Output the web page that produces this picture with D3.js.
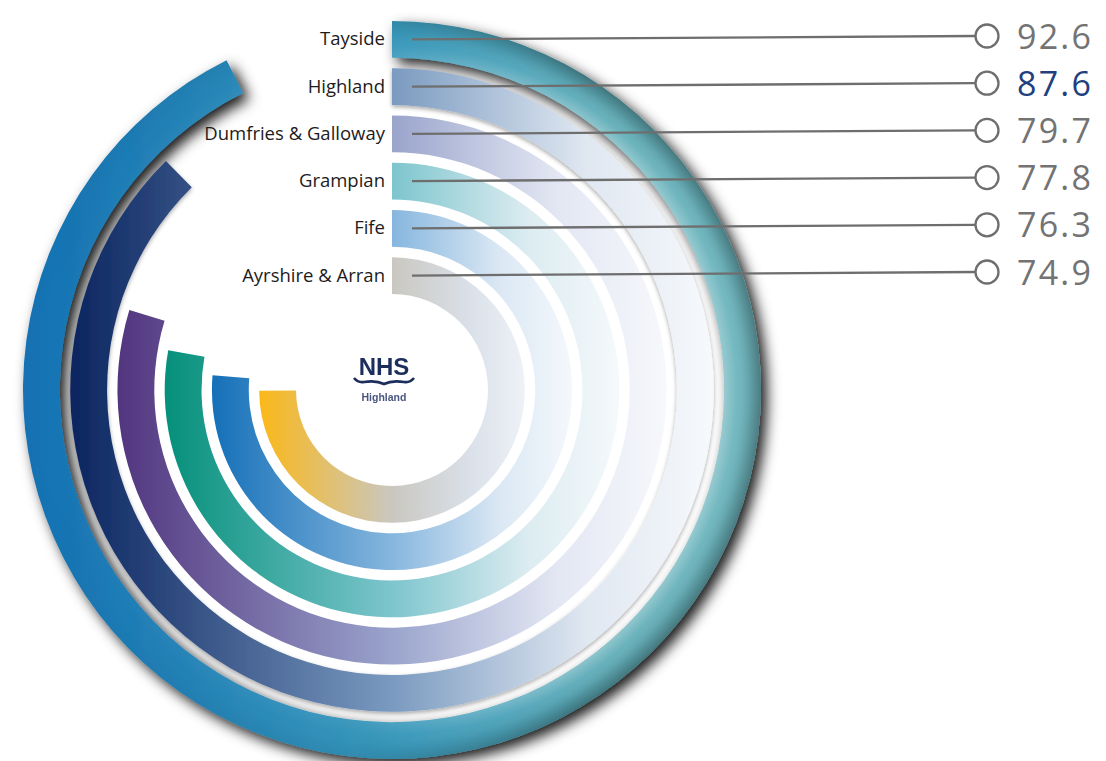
<!DOCTYPE html>
<html>
<head>
<meta charset="utf-8">
<script src="https://cdn.jsdelivr.net/npm/d3@7"></script>
<style>
  html, body { margin: 0; padding: 0; background: #ffffff; }
  svg { display: block; }
</style>
</head>
<body>
<svg id="chart" width="1106" height="761"></svg>
<script>
// Health board scores, outermost ring first
const regions = ["Tayside", "Highland", "Dumfries & Galloway", "Grampian", "Fife", "Ayrshire & Arran"];
const scores = [92.6, 87.6, 79.7, 77.8, 76.3, 74.9];
const valueLabels = ["92.6", "87.6", "79.7", "77.8", "76.3", "74.9"];
const highlighted = "Highland";
const scaleMax = 100;

// Ring colours: [end of arc (left), middle, towards right, right edge]
const ringColours = [
  ["#1471b3", "#3898bb", "#62aeb8", "#70b7bf"],
  ["#0b2560", "#7a9ac0", "#dfe7f1", "#f7f9fc"],
  ["#52357f", "#9aa4cc", "#e3e7f3", "#f7f8fc"],
  ["#05907a", "#7dc5cd", "#dcecf1", "#f5f9fb"],
  ["#1570b8", "#86b6de", "#dbe8f4", "#f4f8fc"],
  ["#fbb818", "#c9c7c0", "#dbe1ea", "#eef2f7"]
];

const cx = 392, cy = 390;
const innerR = 96, outerR = 369;

const svg = d3.select("#chart");
const defs = svg.append("defs");

const angle = d3.scaleLinear().domain([0, scaleMax]).range([0, 2 * Math.PI]);
const ring = d3.scaleBand()
  .domain(regions.slice().reverse())
  .range([innerR, outerR])
  .paddingInner(0.22);

const rows = d3.scalePoint().domain(regions).range([36, 272]);

// Shadows
const shadow = defs.append("filter").attr("id", "ringShadow")
  .attr("x", "-20%").attr("y", "-20%").attr("width", "140%").attr("height", "140%");
shadow.append("feDropShadow")
  .attr("dx", 6).attr("dy", 6).attr("stdDeviation", 7)
  .attr("flood-color", "#000").attr("flood-opacity", 0.9);

const softShadow = defs.append("filter").attr("id", "softShadow")
  .attr("x", "-20%").attr("y", "-20%").attr("width", "140%").attr("height", "140%");
softShadow.append("feDropShadow")
  .attr("dx", 0).attr("dy", 2).attr("stdDeviation", 2)
  .attr("flood-color", "#000").attr("flood-opacity", 0.35);

const logoBlur = defs.append("filter").attr("id", "logoBlur");
logoBlur.append("feGaussianBlur").attr("stdDeviation", 0.6);

// Horizontal gradients per ring, in the ring group's centred coordinates
regions.forEach((name, i) => {
  const r1 = ring(name) + ring.bandwidth();
  const g = defs.append("linearGradient")
    .attr("id", "grad" + i)
    .attr("gradientUnits", "userSpaceOnUse")
    .attr("x1", -r1).attr("y1", 0)
    .attr("x2", r1).attr("y2", 0);
  const c = ringColours[i];
  [0, 0.5, 0.8, 1].forEach((o, k) =>
    g.append("stop").attr("offset", o).attr("stop-color", c[k]));
});

// Bevel shading across the outer ring, strongest on the right-hand side
const outerName = regions[0];
const rIn = ring(outerName), rOut = rIn + ring.bandwidth();
const bevel = defs.append("radialGradient")
  .attr("id", "bevel")
  .attr("gradientUnits", "userSpaceOnUse")
  .attr("cx", 0).attr("cy", 0).attr("r", rOut);
const r0 = rIn / rOut;
bevel.append("stop").attr("offset", r0).attr("stop-color", "#ffffff").attr("stop-opacity", 0.3);
bevel.append("stop").attr("offset", r0 + (1 - r0) * 0.35).attr("stop-color", "#ffffff").attr("stop-opacity", 0.05);
bevel.append("stop").attr("offset", r0 + (1 - r0) * 0.7).attr("stop-color", "#000000").attr("stop-opacity", 0.12);
bevel.append("stop").attr("offset", 1).attr("stop-color", "#000000").attr("stop-opacity", 0.32);

const fadeGrad = defs.append("linearGradient")
  .attr("id", "bevelFade")
  .attr("gradientUnits", "userSpaceOnUse")
  .attr("x1", -rOut).attr("y1", 0).attr("x2", rOut).attr("y2", 0);
fadeGrad.append("stop").attr("offset", 0).attr("stop-color", "#000");
fadeGrad.append("stop").attr("offset", 0.45).attr("stop-color", "#333");
fadeGrad.append("stop").attr("offset", 0.75).attr("stop-color", "#fff");
fadeGrad.append("stop").attr("offset", 1).attr("stop-color", "#fff");
defs.append("mask").attr("id", "bevelMask")
  .attr("maskUnits", "userSpaceOnUse")
  .attr("x", -rOut - 10).attr("y", -rOut - 10)
  .attr("width", 2 * rOut + 20).attr("height", 2 * rOut + 20)
  .append("rect")
  .attr("x", -rOut - 10).attr("y", -rOut - 10)
  .attr("width", 2 * rOut + 20).attr("height", 2 * rOut + 20)
  .attr("fill", "url(#bevelFade)");

const arc = d3.arc()
  .innerRadius(d => ring(d.name))
  .outerRadius(d => ring(d.name) + ring.bandwidth())
  .startAngle(0)
  .endAngle(d => angle(d.value));

const data = regions.map((name, i) => ({ name, value: scores[i], label: valueLabels[i], i }));

const rings = svg.append("g").attr("transform", `translate(${cx},${cy})`);

rings.selectAll("path.ring")
  .data(data)
  .join("path")
  .attr("class", "ring")
  .attr("d", arc)
  .attr("fill", d => `url(#grad${d.i})`)
  .attr("filter", d => d.i === 0 ? "url(#ringShadow)" : (d.i === 1 ? "url(#softShadow)" : null));

rings.append("path")
  .attr("d", arc(data[0]))
  .attr("fill", "url(#bevel)")
  .attr("mask", "url(#bevelMask)");

// Category labels
const labelX = 385, lineStartX = 412, markerX = 987, markerR = 11.5;
const bandMid = d => cy - (ring(d.name) + ring.bandwidth() / 2);

svg.append("g")
  .selectAll("text")
  .data(data)
  .join("text")
  .attr("x", labelX)
  .attr("y", d => bandMid(d) + 6)
  .attr("text-anchor", "end")
  .attr("font-family", "'Open Sans', 'Noto Sans', sans-serif")
  .attr("font-size", 18.5)
  .attr("fill", "#1d1b1c")
  .text(d => d.name);

// Leader lines
svg.append("g")
  .selectAll("line")
  .data(data)
  .join("line")
  .attr("x1", lineStartX)
  .attr("y1", bandMid)
  .attr("x2", markerX - markerR)
  .attr("y2", d => rows(d.name))
  .attr("stroke", "#6e6e6e")
  .attr("stroke-width", 2.3);

svg.append("g")
  .selectAll("circle")
  .data(data)
  .join("circle")
  .attr("cx", markerX)
  .attr("cy", d => rows(d.name))
  .attr("r", markerR)
  .attr("fill", "#ffffff")
  .attr("stroke", "#6e6e6e")
  .attr("stroke-width", 2.3);

svg.append("g")
  .selectAll("text")
  .data(data)
  .join("text")
  .attr("x", 1017)
  .attr("y", d => rows(d.name) + 12.5)
  .attr("font-family", "'Open Sans', 'Noto Sans', sans-serif")
  .attr("font-size", 34)
  .attr("letter-spacing", 2.2)
  .attr("fill", d => d.name === highlighted ? "#1f3f7f" : "#737373")
  .text(d => d.label);

// Centre logo
const logo = svg.append("g").attr("filter", "url(#logoBlur)");
logo.append("text")
  .attr("x", 384).attr("y", 375)
  .attr("text-anchor", "middle")
  .attr("font-family", "'Liberation Sans', Arial, sans-serif")
  .attr("font-weight", "bold")
  .attr("font-size", 24)
  .attr("fill", "#1e2d5c")
  .text("NHS");
logo.append("path")
  .attr("d", "M354,378 Q358,383 364,382 Q376,380 384,384 Q392,380 404,382 Q410,383 414,378")
  .attr("fill", "none")
  .attr("stroke", "#1e2d5c")
  .attr("stroke-width", 2.6);
logo.append("text")
  .attr("x", 384).attr("y", 401)
  .attr("text-anchor", "middle")
  .attr("font-family", "'Liberation Sans', Arial, sans-serif")
  .attr("font-weight", "bold")
  .attr("font-size", 10.5)
  .attr("fill", "#4a5680")
  .text("Highland");
</script>
</body>
</html>
